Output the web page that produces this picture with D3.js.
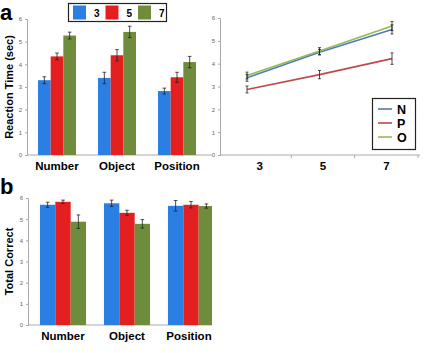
<!DOCTYPE html>
<html>
<head>
<meta charset="utf-8">
<script src="https://cdn.jsdelivr.net/npm/d3@7"></script>
<style>
  body { margin: 0; background: #fff; }
  svg { font-family: Arial, "Liberation Sans", sans-serif; display: block; }
</style>
</head>
<body>
<div id="chart"></div>
<script>
// ---- data ----
const tasks = ["Number", "Object", "Position"];
const loads = ["3", "5", "7"];

// panel a: reaction time (sec), by task then load
const rtMeans = [[3.3, 4.35, 5.27], [3.4, 4.4, 5.43], [2.82, 3.43, 4.1]];
const rtErrors = [[0.15, 0.15, 0.15], [0.25, 0.25, 0.25], [0.13, 0.22, 0.25]];

// panel a right: lines by task (N, P, O) across loads
const lineNames = ["N", "P", "O"];
const lineMeans = [[3.38, 4.5, 5.5], [2.87, 3.52, 4.22], [3.48, 4.55, 5.65]];
const lineErrors = [[0.15, 0.12, 0.2], [0.15, 0.18, 0.25], [0.15, 0.15, 0.2]];

// panel b: total correct
const tcMeans = [[5.68, 5.82, 4.88], [5.75, 5.3, 4.78], [5.63, 5.68, 5.62]];
const tcErrors = [[0.12, 0.08, 0.32], [0.15, 0.12, 0.2], [0.25, 0.15, 0.1]];

const yTicks = [0, 1, 2, 3, 4, 5, 6];

const barColors = ["#2b7fe3", "#e3201f", "#6f8b3c"];
const lineColors = ["#4a7ebb", "#be4b48", "#98b954"];

const svg = d3.select("#chart").append("svg")
    .attr("width", 425)
    .attr("height", 353);

// draws a y axis with small grey tick labels
function drawYAxis(g, y, x) {
  const axis = d3.axisLeft(y).tickValues(yTicks).tickFormat(d3.format("d")).tickSize(2).tickPadding(3);
  const ax = g.append("g").attr("transform", `translate(${x},0)`).call(axis);
  ax.select(".domain").attr("stroke", "#aaa");
  ax.selectAll(".tick line").attr("stroke", "#aaa");
  ax.selectAll(".tick text").attr("font-size", 6).attr("fill", "#666");
}

function errorBar(g, cx, y, mean, err, cap) {
  g.append("line").attr("x1", cx).attr("x2", cx)
      .attr("y1", y(mean - err)).attr("y2", y(mean + err))
      .attr("stroke", "#222").attr("stroke-width", 0.8);
  [mean - err, mean + err].forEach((v) => {
    g.append("line").attr("x1", cx - cap).attr("x2", cx + cap)
        .attr("y1", y(v)).attr("y2", y(v))
        .attr("stroke", "#222").attr("stroke-width", 0.8);
  });
}

// grouped bar chart
function barPanel(cfg, means, errors) {
  const outer = svg.append("g");
  const g = outer.append("g");
  if (cfg.clip) {
    svg.append("defs").append("clipPath").attr("id", cfg.clip)
        .append("rect").attr("x", 0).attr("y", 0).attr("width", 212).attr("height", 353);
    g.attr("clip-path", `url(#${cfg.clip})`);
  }
  const y = d3.scaleLinear().domain([0, 6]).range(cfg.yRange);
  const x0 = d3.scaleBand().domain(tasks).range(cfg.xRange)
      .paddingInner(cfg.pad).paddingOuter(cfg.pad / 2);
  const x1 = d3.scaleBand().domain(loads).range([0, x0.bandwidth()]);

  drawYAxis(g, y, cfg.axisX);
  g.append("line").attr("x1", cfg.axisX).attr("x2", 212)
      .attr("y1", y(0)).attr("y2", y(0)).attr("stroke", "#aaa");

  tasks.forEach((t, i) => {
    loads.forEach((l, j) => {
      g.append("rect")
          .attr("x", x0(t) + x1(l))
          .attr("y", y(means[i][j]))
          .attr("width", x1.bandwidth())
          .attr("height", y(0) - y(means[i][j]))
          .attr("fill", barColors[j]);
      errorBar(g, x0(t) + x1(l) + x1.bandwidth() / 2, y, means[i][j], errors[i][j], 1.8);
    });
    outer.append("text")
        .attr("x", x0(t) + x0.bandwidth() / 2 + (cfg.labelShift ? cfg.labelShift[i] : 0))
        .attr("y", y(0) + 15)
        .attr("text-anchor", "middle")
        .attr("font-size", 11.5).attr("font-weight", "bold")
        .text(t);
  });

  outer.append("text")
      .attr("transform", `translate(${cfg.titleX},${(cfg.yRange[0] + cfg.yRange[1]) / 2}) rotate(-90)`)
      .attr("text-anchor", "middle")
      .attr("font-size", 11).attr("font-weight", "bold")
      .text(cfg.title);

  svg.append("text")
      .attr("x", 0).attr("y", cfg.letterY)
      .attr("font-size", 22).attr("font-weight", "bold")
      .text(cfg.letter);
}

barPanel({ xRange: [27, 207], pad: 0.367, yRange: [155, 19], axisX: 27, title: "Reaction Time (sec)",
  titleX: 13, letter: "a", letterY: 20 }, rtMeans, rtErrors);
barPanel({ xRange: [31, 223], pad: 0.28, yRange: [325, 198], axisX: 28, title: "Total Correct",
  titleX: 13, letter: "b", letterY: 194, clip: "clipB", labelShift: [0, 0, -2] }, tcMeans, tcErrors);

// legend for bars
const leg = svg.append("g");
leg.append("rect").attr("x", 68.5).attr("y", 3.5).attr("width", 98).attr("height", 18)
    .attr("fill", "#fff").attr("stroke", "#222").attr("stroke-width", 1.2);
const legX = d3.scalePoint().domain(loads).range([73, 138]);
loads.forEach((l, j) => {
  leg.append("rect").attr("x", legX(l)).attr("y", 5.5).attr("width", 13).attr("height", 14)
      .attr("fill", barColors[j]);
  leg.append("text").attr("x", legX(l) + 21).attr("y", 16.5)
      .attr("font-size", 10).attr("font-weight", "bold").text(l);
});

// line chart
const lg = svg.append("g");
const ly = d3.scaleLinear().domain([0, 6]).range([155, 18]);
const lxBand = d3.scaleBand().domain(loads).range([228, 418]);
const lxPoint = d3.scalePoint().domain(loads).range([247, 392]);

drawYAxis(lg, ly, 220);
lg.append("line").attr("x1", 220).attr("x2", 420).attr("y1", ly(0)).attr("y2", ly(0)).attr("stroke", "#aaa");
[...loads.slice(1).map((l) => lxBand(l)), lxBand.range()[1]].forEach((v) => {
  lg.append("line").attr("x1", v).attr("x2", v).attr("y1", ly(0)).attr("y2", ly(0) + 3).attr("stroke", "#aaa");
});
loads.forEach((l) => {
  lg.append("text").attr("x", lxBand(l) + lxBand.bandwidth() / 2).attr("y", ly(0) + 15)
      .attr("text-anchor", "middle").attr("font-size", 11.5).attr("font-weight", "bold").text(l);
});

const line = d3.line().x((d, i) => lxPoint(loads[i])).y((d) => ly(d));
lineNames.forEach((n, k) => {
  lg.append("path").attr("d", line(lineMeans[k]))
      .attr("fill", "none").attr("stroke", lineColors[k]).attr("stroke-width", 1.6);
});
lineNames.forEach((n, k) => {
  lineMeans[k].forEach((m, i) => errorBar(lg, lxPoint(loads[i]), ly, m, lineErrors[k][i], 1.5));
});

// line legend
lg.append("rect").attr("x", 372.5).attr("y", 98.5).attr("width", 43).attr("height", 51)
    .attr("fill", "#fff").attr("stroke", "#222").attr("stroke-width", 1.2);
const legY = d3.scalePoint().domain(lineNames).range([109, 137]);
lineNames.forEach((n, k) => {
  lg.append("line").attr("x1", 378).attr("x2", 392).attr("y1", legY(n)).attr("y2", legY(n))
      .attr("stroke", lineColors[k]).attr("stroke-width", 1.6);
  lg.append("text").attr("x", 397).attr("y", legY(n) + 4.5)
      .attr("font-size", 12.5).attr("font-weight", "bold").text(n);
});
</script>
</body>
</html>
